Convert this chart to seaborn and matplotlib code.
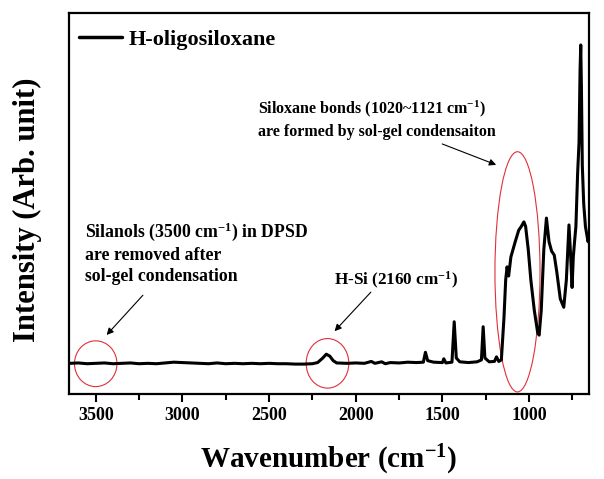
import pandas as pd
import seaborn as sns
import matplotlib.pyplot as plt
from matplotlib.patches import Ellipse
from matplotlib.ticker import MultipleLocator

# FTIR spectrum (wavenumber in cm-1, intensity in arb. units)
wavenumber = [3650, 3600, 3550, 3500, 3450, 3400, 3350, 3300, 3250, 3200, 3150, 3100,
              3050, 3000, 2950, 2900, 2850, 2800, 2750, 2700, 2650, 2600, 2550, 2500,
              2450, 2400, 2350, 2300, 2250, 2220, 2190, 2170, 2150, 2130, 2110, 2050,
              2000, 1950, 1910, 1890, 1850, 1830, 1800, 1750, 1700, 1650, 1610, 1598,
              1585, 1550, 1500, 1492, 1480, 1445, 1432, 1420, 1400, 1350, 1300, 1275,
              1265, 1255, 1230, 1200, 1188, 1175, 1160, 1145, 1135, 1127, 1118, 1105,
              1080, 1060, 1045, 1030, 1020, 1005, 990, 970, 950, 942, 930, 915,
              900, 885, 870, 855, 840, 820, 800, 785, 770, 760, 752, 745,
              737, 730, 720, 712, 706, 702, 698, 693, 685, 675, 660, 655]
intensity = [8.1, 8.2, 8.0, 8.1, 8.2, 8.0, 8.1, 8.2, 8.0, 8.1, 8.0, 8.2,
             8.4, 8.3, 8.2, 8.1, 8.0, 8.2, 8.0, 8.1, 8.0, 8.1, 8.0, 8.1,
             8.0, 8.0, 7.9, 7.9, 8.0, 8.3, 9.5, 10.5, 10.0, 8.8, 8.2, 8.1,
             8.2, 8.1, 8.6, 8.1, 8.5, 8.0, 8.3, 8.2, 8.4, 8.3, 8.4, 11.0,
             8.8, 8.4, 8.3, 9.3, 8.2, 8.4, 19.0, 9.5, 8.5, 8.3, 8.5, 9.0,
             17.7, 9.5, 8.5, 8.6, 9.8, 8.6, 9.0, 20.0, 30.0, 33.4, 31.0, 36.0,
             40.0, 43.0, 44.0, 45.2, 44.0, 38.0, 30.0, 22.0, 16.0, 15.5, 22.0, 38.0,
             46.2, 40.0, 37.5, 36.5, 32.0, 25.0, 22.8, 30.0, 44.4, 36.0, 28.0, 36.0,
             40.4, 44.0, 58.0, 66.0, 85.0, 91.6, 80.0, 60.0, 50.0, 44.0, 40.0, 41.0]

df = pd.DataFrame({'Wavenumber': wavenumber, 'Intensity': intensity})

sns.set_style('ticks')
plt.rcParams['font.family'] = ['Liberation Serif', 'DejaVu Serif']
plt.rcParams['font.weight'] = 'bold'
plt.rcParams['text.color'] = 'black'
plt.rcParams['axes.labelcolor'] = 'black'
plt.rcParams['xtick.color'] = 'black'
plt.rcParams['axes.edgecolor'] = 'black'
plt.rcParams['mathtext.fontset'] = 'custom'
plt.rcParams['mathtext.rm'] = 'Liberation Serif:bold'
plt.rcParams['mathtext.it'] = 'Liberation Serif:bold'
plt.rcParams['mathtext.bf'] = 'Liberation Serif:bold'
plt.rcParams['mathtext.default'] = 'rm'

fig = plt.figure(figsize=(6.04, 4.79), dpi=100)
ax = fig.add_axes([0.114, 0.177, 0.861, 0.796])

sns.lineplot(data=df, x='Wavenumber', y='Intensity', color='black', linewidth=2.2,
             estimator=None, label='H-oligosiloxane', ax=ax)

ax.set_xlim(3655, 655)
ax.set_ylim(0, 100)
ax.xaxis.set_major_locator(MultipleLocator(500))
ax.xaxis.set_minor_locator(MultipleLocator(250))
ax.set_yticks([])
ax.tick_params(axis='x', which='major', direction='out', length=6, width=1.5, labelsize=13)
ax.tick_params(axis='x', which='minor', direction='out', length=4, width=1.5)
for s in ax.spines.values():
    s.set_linewidth(1.6)
    s.set_visible(True)
for lbl in ax.get_xticklabels():
    lbl.set_fontweight('bold')

ax.set_xlabel('Wavenumber (cm$^{-1}$)', fontsize=21, fontweight='bold', labelpad=13)
ax.set_ylabel('Intensity (Arb. unit)', fontsize=22, fontweight='bold')
ax.yaxis.set_label_coords(-0.052, 0.483)

leg = ax.legend(loc='upper left', bbox_to_anchor=(-0.0135, 1.0), frameon=False,
                prop={'size': 16, 'weight': 'bold'},
                handlelength=1.95, handletextpad=0.3, borderaxespad=0.35)
for h in leg.get_lines():
    h.set_linewidth(2.5)

red = '#e0303a'
ax.add_patch(Ellipse((1067, 32.1), 260, 63, fill=False, edgecolor=red, lw=0.8))
ax.add_patch(Ellipse((3500, 8.0), 245, 12, fill=False, edgecolor=red, lw=0.8))
ax.add_patch(Ellipse((2163, 8.1), 246, 13, fill=False, edgecolor=red, lw=0.8))

arrow = dict(arrowstyle='-|>', color='black', lw=0.8, mutation_scale=10)
ax.text(2565, 72.2, 'Siloxane bonds (1020~1121 cm$^{-1}$)\nare formed by sol-gel condensaiton',
        fontsize=11.5, fontweight='bold', ha='left', va='center', linespacing=1.42)
ax.annotate('', xy=(1175, 59.9), xytext=(1516, 65.9), arrowprops=arrow)

ax.text(3563, 37.0, 'Silanols (3500 cm$^{-1}$) in DPSD\nare removed after\nsol-gel condensation',
        fontsize=12.8, fontweight='bold', ha='left', va='center', linespacing=1.31)
ax.annotate('', xy=(3448, 15.0), xytext=(3217, 26.5), arrowprops=arrow)

ax.text(2127, 29.9, 'H-Si (2160 cm$^{-1}$)', fontsize=12.3, fontweight='bold',
        ha='left', va='center')
ax.annotate('', xy=(2133, 16.0), xytext=(1902, 27.3), arrowprops=arrow)

plt.savefig('out.png', dpi=100)
